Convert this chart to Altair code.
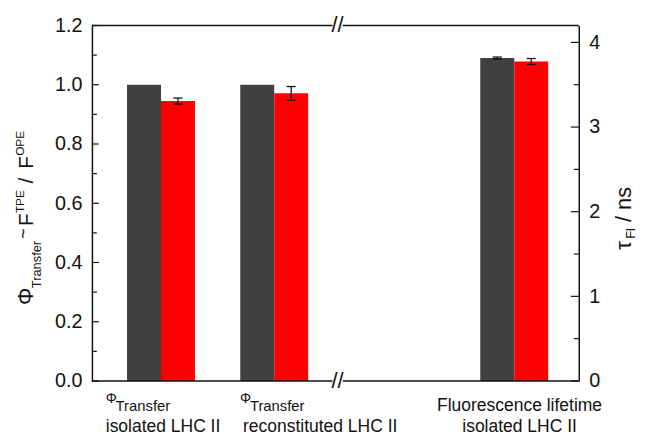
import altair as alt
import pandas as pd

# ---------------- data ----------------
groups = ["Φ isolated LHC II", "Φ reconstituted LHC II", "lifetime isolated LHC II"]
group_pos = [1.0, 2.0, 4.12]
series_names = ["reference", "sample"]
gray_vals = [1.0, 1.0, 3.815]
gray_err = [0.0, 0.0, 0.012]
red_vals = [0.945, 0.971, 3.775]
red_err = [0.010, 0.023, 0.035]

left_major = [0.0, 0.2, 0.4, 0.6, 0.8, 1.0, 1.2]
left_minor = [0.1, 0.3, 0.5, 0.7, 0.9, 1.1]
right_major = [0, 1, 2, 3, 4]
right_minor = [0.5, 1.5, 2.5, 3.5]
x_domain = [0.39, 4.69]
left_domain = [0.0, 1.2]
right_domain = [0.0, 4.2]
break_pos = [2.56]

phi_label_pos = [0.512, 1.698]
line2_labels = ["isolated LHC II", "reconstituted LHC II"]
line2_pos = [0.512, 1.724]
fl_label_line1 = ["Fluorescence lifetime"]
fl_label_line2 = ["isolated LHC II"]
fl_label_pos = [4.167]

# ---------------- layout constants ----------------
W, H = 493, 360
BAR_W = 0.3
FONT = "Liberation Sans"
INK = "#111111"
GRAY = "#414141"
RED = "#ff0000"

rows = []
for i, g in enumerate(groups):
    for s, vals, errs in ((series_names[0], gray_vals, gray_err), (series_names[1], red_vals, red_err)):
        x0 = group_pos[i] - BAR_W if s == series_names[0] else group_pos[i]
        rows.append(dict(group=g, series=s, value=vals[i], base=0.0, err=errs[i],
                         x0=x0, x1=x0 + BAR_W, xc=x0 + BAR_W / 2,
                         c0=x0 + BAR_W / 2 - 0.04, c1=x0 + BAR_W / 2 + 0.04,
                         lo=vals[i] - errs[i], hi=vals[i] + errs[i]))
bars = pd.DataFrame(rows)
left_bars = bars[bars.group != groups[2]]
right_bars = bars[bars.group == groups[2]]

xs = alt.Scale(domain=x_domain, nice=False, zero=False)
ysl = alt.Scale(domain=left_domain, nice=False, zero=False)
ysr = alt.Scale(domain=right_domain, nice=False, zero=False)
color = alt.Color("series:N", scale=alt.Scale(domain=series_names, range=[GRAY, RED]), legend=None)

axis_common = dict(title=None, ticks=False, domain=True, domainColor=INK, domainWidth=1.5,
                   labelFontSize=20, labelFont=FONT, labelColor=INK, labelPadding=10, grid=False)
left_axis = alt.Axis(orient="left", values=left_major, format=".1f", **axis_common)
right_axis = alt.Axis(orient="right", values=right_major, format="d", **axis_common)


def X(field):
    return alt.X(field, scale=xs, axis=None)


def YL(field):
    return alt.Y(field, scale=ysl, axis=left_axis)


def YR(field):
    return alt.Y(field, scale=ysr, axis=right_axis)


def bar_layers(df, Y):
    b = alt.Chart(df).mark_rect(strokeWidth=0).encode(
        x=X("x0:Q"), x2="x1:Q", y=Y("value:Q"), y2="base:Q", color=color)
    e = df[df.err > 0]
    stem = alt.Chart(e).mark_rule(color=INK, strokeWidth=1.3).encode(x=X("xc:Q"), y=Y("lo:Q"), y2="hi:Q")
    cap_lo = alt.Chart(e).mark_rule(color=INK, strokeWidth=1.3).encode(x=X("c0:Q"), x2="c1:Q", y=Y("lo:Q"))
    cap_hi = alt.Chart(e).mark_rule(color=INK, strokeWidth=1.3).encode(x=X("c0:Q"), x2="c1:Q", y=Y("hi:Q"))
    return [b, stem, cap_lo, cap_hi]


def text_piece(t, size, x, y, angle=None, align="left", baseline="alphabetic"):
    kw = dict(font=FONT, fontSize=size, color=INK, align=align, baseline=baseline)
    if angle is not None:
        kw["angle"] = angle
    return alt.Chart(pd.DataFrame({"t": [t]})).mark_text(**kw).encode(
        text="t:N", x=alt.value(x), y=alt.value(y))


# ---------------- left-scale layer ----------------
left_ticks_major = alt.Chart(pd.DataFrame({"v": left_major})).mark_rule(color=INK, strokeWidth=1.2).encode(
    y=YL("v:Q"), x=alt.value(0), x2=alt.value(7))
left_ticks_minor = alt.Chart(pd.DataFrame({"v": left_minor})).mark_rule(color=INK, strokeWidth=1.2).encode(
    y=YL("v:Q"), x=alt.value(0), x2=alt.value(5))

phi = alt.Chart(pd.DataFrame({"p": phi_label_pos})).mark_text(
    text="Φ", font=FONT, fontSize=14, color=INK, align="left", baseline="alphabetic").encode(
    x=X("p:Q"), y=alt.value(382))
transfer = alt.Chart(pd.DataFrame({"p": phi_label_pos})).mark_text(
    text="Transfer", font=FONT, fontSize=15, color=INK, align="left", baseline="alphabetic", dx=10).encode(
    x=X("p:Q"), y=alt.value(390))
line2 = alt.Chart(pd.DataFrame({"t": line2_labels, "p": line2_pos})).mark_text(
    font=FONT, fontSize=17.7, color=INK, align="left", baseline="alphabetic").encode(
    text="t:N", x=X("p:Q"), y=alt.value(412))
fl1 = alt.Chart(pd.DataFrame({"t": fl_label_line1, "p": fl_label_pos})).mark_text(
    font=FONT, fontSize=17.7, color=INK, align="center", baseline="alphabetic").encode(
    text="t:N", x=X("p:Q"), y=alt.value(390))
fl2 = alt.Chart(pd.DataFrame({"t": fl_label_line2, "p": fl_label_pos})).mark_text(
    font=FONT, fontSize=17.7, color=INK, align="center", baseline="alphabetic").encode(
    text="t:N", x=X("p:Q"), y=alt.value(412))

left_title = [
    text_piece("Φ", 22, -60, 283, angle=270),
    text_piece("Transfer", 13, -52, 266, angle=270),
    text_piece("~", 18, -64, 216, angle=270),
    text_piece("F", 21, -60, 203, angle=270),
    text_piece("TPE", 12, -69, 190, angle=270),
    text_piece("/", 21, -60, 160, angle=270),
    text_piece("F", 21, -60, 145, angle=270),
    text_piece("OPE", 12, -69, 132, angle=270),
]
right_title = [
    text_piece("τ", 22, 546, 227, angle=270),
    text_piece("Fl", 13, 550, 216, angle=270),
    text_piece("/ ns", 22, 546, 199, angle=270),
]

left_layer = alt.layer(*bar_layers(left_bars, YL), left_ticks_major, left_ticks_minor,
                       phi, transfer, line2, fl1, fl2, *left_title, *right_title)

# ---------------- right-scale layer ----------------
right_ticks_major = alt.Chart(pd.DataFrame({"v": right_major})).mark_rule(color=INK, strokeWidth=1.2).encode(
    y=YR("v:Q"), x=alt.value(W), x2=alt.value(W - 8))
right_ticks_minor = alt.Chart(pd.DataFrame({"v": right_minor})).mark_rule(color=INK, strokeWidth=1.2).encode(
    y=YR("v:Q"), x=alt.value(W), x2=alt.value(W - 5))
frame = alt.Chart(pd.DataFrame({"v": right_domain})).mark_rule(color=INK, strokeWidth=1.5).encode(y=YR("v:Q"))

brk = pd.DataFrame({"b": break_pos})
brk["b0"] = brk.b - 0.045
brk["b1"] = brk.b + 0.045
gap_top = alt.Chart(brk).mark_rect(color="white").encode(x=X("b0:Q"), x2="b1:Q", y=alt.value(-3), y2=alt.value(3))
gap_bot = alt.Chart(brk).mark_rect(color="white").encode(x=X("b0:Q"), x2="b1:Q", y=alt.value(H - 3), y2=alt.value(H + 3))
sl_top = alt.Chart(brk).mark_text(text="//", font=FONT, fontSize=22, color=INK, align="center", baseline="middle").encode(
    x=X("b:Q"), y=alt.value(0))
sl_bot = alt.Chart(brk).mark_text(text="//", font=FONT, fontSize=22, color=INK, align="center", baseline="middle").encode(
    x=X("b:Q"), y=alt.value(H))

right_layer = alt.layer(*bar_layers(right_bars, YR), right_ticks_major, right_ticks_minor,
                        frame, gap_top, gap_bot, sl_top, sl_bot)

chart = alt.layer(left_layer, right_layer).resolve_scale(y="independent").properties(
    width=W, height=H,
    autosize=alt.AutoSizeParams(type="none"),
    padding={"left": 85, "top": 15, "right": 61, "bottom": 54},
).configure_view(stroke=None)

chart.save("out.html", embed_options={"renderer": "svg", "actions": False})
